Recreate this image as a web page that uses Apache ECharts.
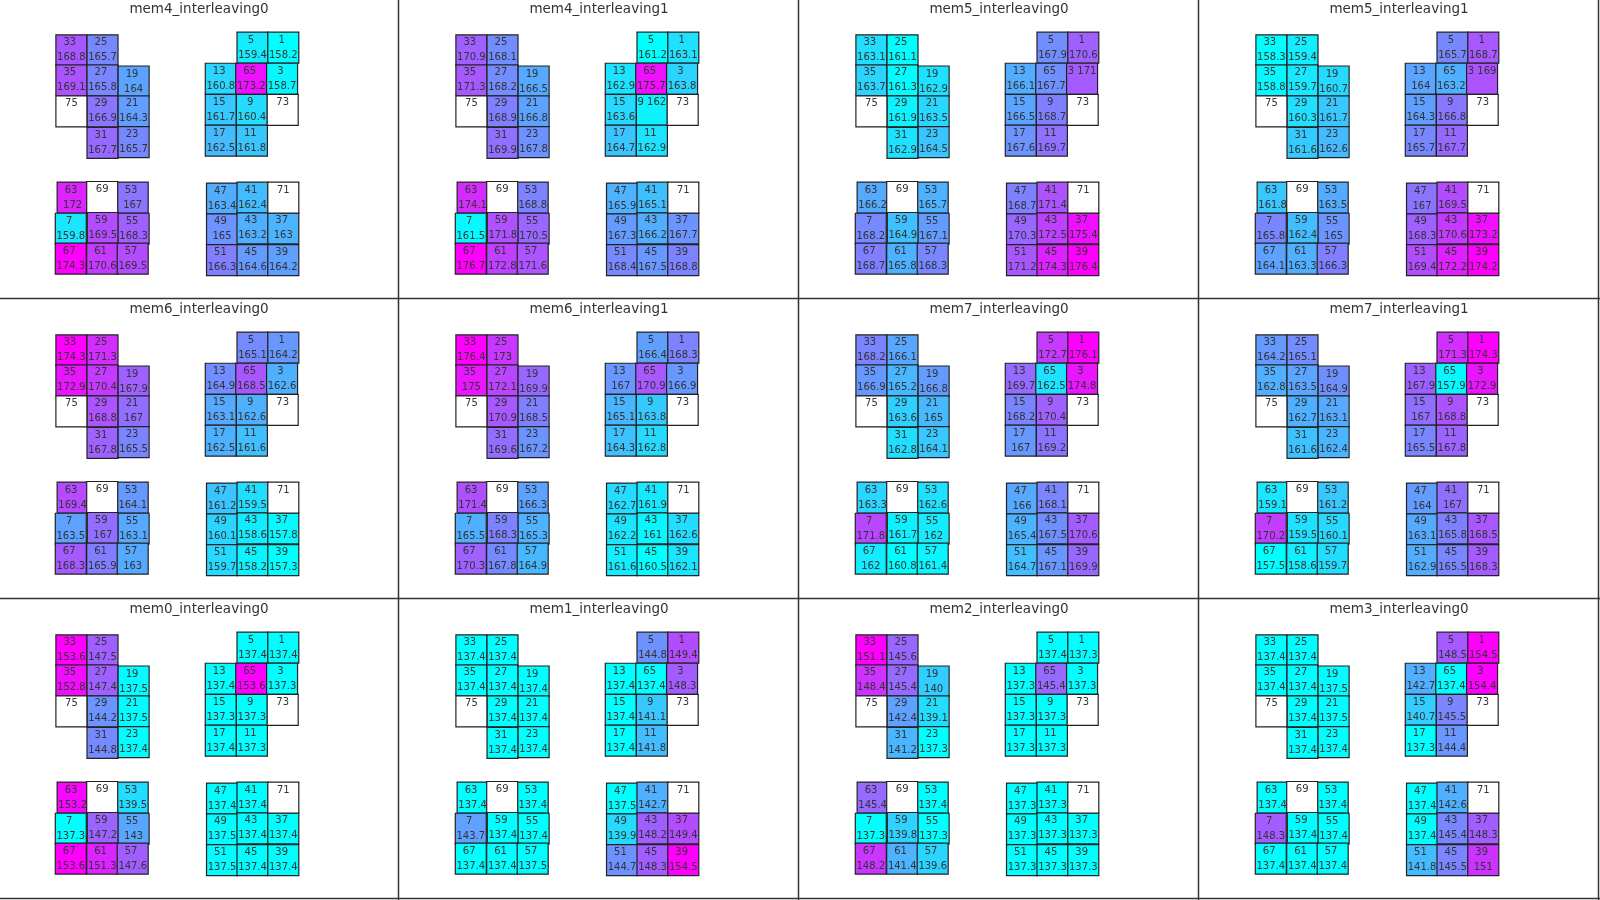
<!DOCTYPE html>
<html><head><meta charset="utf-8">
<script src="https://cdn.jsdelivr.net/npm/echarts@6/dist/echarts.min.js"></script>
<style>html,body{margin:0;padding:0;background:#fff}#c{width:1600px;height:900px}</style>
</head><body><div id="c"></div>
<script>
// ---- data ----
const panelNames = [
  'mem4_interleaving0','mem4_interleaving1','mem5_interleaving0','mem5_interleaving1',
  'mem6_interleaving0','mem6_interleaving1','mem7_interleaving0','mem7_interleaving1',
  'mem0_interleaving0','mem1_interleaving0','mem2_interleaving0','mem3_interleaving0'
];
// core ids, in the order of the value arrays below
const cores = [33,25,35,27,19,75,29,21,31,23, 5,1,13,65,3,15,9,73,17,11, 63,69,53,7,59,55,67,61,57, 47,41,71,49,43,37,51,45,39];

const mem4_interleaving0 = [168.8,165.7,169.1,165.8,164,null,166.9,164.3,167.7,165.7, 159.4,158.2,160.8,173.2,158.7,161.7,160.4,null,162.5,161.8, 172,null,167,159.8,169.5,168.3,174.3,170.6,169.5, 163.4,162.4,null,165,163.2,163,166.3,164.6,164.2];
const mem4_interleaving1 = [170.9,168.1,171.3,168.2,166.5,null,168.9,166.8,169.9,167.8, 161.2,163.1,162.9,175.7,163.8,163.6,162,null,164.7,162.9, 174.1,null,168.8,161.5,171.8,170.5,176.7,172.8,171.6, 165.9,165.1,null,167.3,166.2,167.7,168.4,167.5,168.8];
const mem5_interleaving0 = [163.1,161.1,163.7,161.3,162.9,null,161.9,163.5,162.9,164.5, 167.9,170.6,166.1,167.7,171,166.5,168.7,null,167.6,169.7, 166.2,null,165.7,168.2,164.9,167.1,168.7,165.8,168.3, 168.7,171.4,null,170.3,172.5,175.4,171.2,174.3,176.4];
const mem5_interleaving1 = [158.3,159.4,158.8,159.7,160.7,null,160.3,161.7,161.6,162.6, 165.7,168.7,164,163.2,169,164.3,166.8,null,165.7,167.7, 161.8,null,163.5,165.8,162.4,165,164.1,163.3,166.3, 167,169.5,null,168.3,170.6,173.2,169.4,172.2,174.2];
const mem6_interleaving0 = [174.3,171.3,172.9,170.4,167.9,null,168.8,167,167.8,165.5, 165.1,164.2,164.9,168.5,162.6,163.1,162.6,null,162.5,161.6, 169.4,null,164.1,163.5,167,163.1,168.3,165.9,163, 161.2,159.5,null,160.1,158.6,157.8,159.7,158.2,157.3];
const mem6_interleaving1 = [176.4,173,175,172.1,169.9,null,170.9,168.5,169.6,167.2, 166.4,168.3,167,170.9,166.9,165.1,163.8,null,164.3,162.8, 171.4,null,166.3,165.5,168.3,165.3,170.3,167.8,164.9, 162.7,161.9,null,162.2,161,162.6,161.6,160.5,162.1];
const mem7_interleaving0 = [168.2,166.1,166.9,165.2,166.8,null,163.6,165,162.8,164.1, 172.7,176.1,169.7,162.5,174.8,168.2,170.4,null,167,169.2, 163.3,null,162.6,171.8,161.7,162,162,160.8,161.4, 166,168.1,null,165.4,167.5,170.6,164.7,167.1,169.9];
const mem7_interleaving1 = [164.2,165.1,162.8,163.5,164.9,null,162.7,163.1,161.6,162.4, 171.3,174.3,167.9,157.9,172.9,167,168.8,null,165.5,167.8, 159.1,null,161.2,170.2,159.5,160.1,157.5,158.6,159.7, 164,167,null,163.1,165.8,168.5,162.9,165.5,168.3];
const mem0_interleaving0 = [153.6,147.5,152.8,147.4,137.5,null,144.2,137.5,144.8,137.4, 137.4,137.4,137.4,153.6,137.3,137.3,137.3,null,137.4,137.3, 153.2,null,139.5,137.3,147.2,143,153.6,151.3,147.6, 137.4,137.4,null,137.5,137.4,137.4,137.5,137.4,137.4];
const mem1_interleaving0 = [137.4,137.4,137.4,137.4,137.4,null,137.4,137.4,137.4,137.4, 144.8,149.4,137.4,137.4,148.3,137.4,141.1,null,137.4,141.8, 137.4,null,137.4,143.7,137.4,137.4,137.4,137.4,137.5, 137.5,142.7,null,139.9,148.2,149.4,144.7,148.3,154.5];
const mem2_interleaving0 = [151.1,145.6,148.4,145.4,140,null,142.4,139.1,141.2,137.3, 137.4,137.3,137.3,145.4,137.3,137.3,137.3,null,137.3,137.3, 145.4,null,137.4,137.3,139.8,137.3,148.2,141.4,139.6, 137.3,137.3,null,137.3,137.3,137.3,137.3,137.3,137.3];
const mem3_interleaving0 = [137.4,137.4,137.4,137.4,137.5,null,137.4,137.5,137.4,137.4, 148.5,154.5,142.7,137.4,154.4,140.7,145.5,null,137.3,144.4, 137.4,null,137.4,148.3,137.4,137.4,137.4,137.4,137.4, 137.4,142.6,null,137.4,145.4,148.3,141.8,145.5,151];

const panelValues = [
  mem4_interleaving0, mem4_interleaving1, mem5_interleaving0, mem5_interleaving1,
  mem6_interleaving0, mem6_interleaving1, mem7_interleaving0, mem7_interleaving1,
  mem0_interleaving0, mem1_interleaving0, mem2_interleaving0, mem3_interleaving0
];

// floorplan: core id -> [column, row] of the tile (grid units)
const floorplan = {
  33:[0,0], 25:[1.01,0], 35:[0,0.97], 27:[1.01,0.97], 19:[2.02,1.01], 75:[0,1.98], 29:[1.01,1.98], 21:[2.02,1.98], 31:[1.01,3.0], 23:[2.02,2.98],
  5:[5.88,-0.09], 1:[6.88,-0.09], 13:[4.85,0.92], 65:[5.84,0.92], 3:[6.84,0.92], 15:[4.85,1.93], 9:[5.86,1.93], 73:[6.86,1.93], 17:[4.85,2.93], 11:[5.86,2.93],
  63:[0.04,4.78], 69:[1.0,4.76], 53:[1.99,4.78], 7:[-0.02,5.79], 59:[1.02,5.76], 55:[2.02,5.79], 67:[-0.02,6.76], 61:[1.0,6.76], 57:[1.99,6.76],
  47:[4.89,4.81], 41:[5.88,4.78], 71:[6.88,4.78], 49:[4.89,5.81], 43:[5.88,5.78], 37:[6.88,5.78], 51:[4.89,6.81], 45:[5.88,6.81], 39:[6.88,6.81]
};

// ---- layout / style ----
const PW = 400, PH = 300, UNIT = 30.8, GX = 56, GY = 35;
const FONT = "'DejaVu Sans', Verdana, sans-serif";

const option = {
  animation: false,
  backgroundColor: '#fff',
  title: [], grid: [], xAxis: [], yAxis: [], series: [], visualMap: [], graphic: []
};

const labelBase = {
  show: true, position: 'insideTop', distance: 1, color: '#333', fontSize: 10,
  fontFamily: FONT, lineHeight: 15, width: 31, overflow: 'break'
};

panelNames.forEach((name, i) => {
  const col = i % 4, row = Math.floor(i / 4);
  const px = col * PW, py = row * PH;
  const vals = panelValues[i];
  option.title.push({
    text: name, left: px + 199, top: py + 2, textAlign: 'center', padding: 0,
    textStyle: { fontSize: 13.5, fontWeight: 'normal', color: '#333', fontFamily: FONT }
  });
  option.grid.push({ left: px + GX, top: py + GY, width: 8 * UNIT, height: 8 * UNIT, show: false });
  option.xAxis.push({ gridIndex: i, type: 'value', min: 0, max: 8, show: false });
  option.yAxis.push({ gridIndex: i, type: 'value', min: 0, max: 8, inverse: true, show: false });
  const filled = [], empty = [];
  cores.forEach((id, k) => {
    const p = floorplan[id];
    if (vals[k] == null) empty.push([p[0] + 0.5, p[1] + 0.5, id]);
    else filled.push([p[0] + 0.5, p[1] + 0.5, vals[k], id]);
  });
  const nums = vals.filter(v => v != null);
  const sIdx = option.series.length;
  option.series.push({
    type: 'scatter', name: name, xAxisIndex: i, yAxisIndex: i, symbol: 'rect', symbolSize: 31,
    clip: false, silent: true, data: filled,
    itemStyle: { borderColor: '#222', borderWidth: 1.2, opacity: 1 },
    label: Object.assign({}, labelBase, { formatter: p => p.data[3] + ' ' + p.data[2] }),
    emphasis: { disabled: true }
  });
  option.series.push({
    type: 'scatter', name: name + '_empty', xAxisIndex: i, yAxisIndex: i, symbol: 'rect', symbolSize: 31,
    clip: false, silent: true, data: empty,
    itemStyle: { color: '#fff', borderColor: '#222', borderWidth: 1.2, opacity: 1 },
    label: Object.assign({}, labelBase, { formatter: p => String(p.data[2]) }),
    emphasis: { disabled: true }
  });
  option.visualMap.push({
    type: 'continuous', show: false, seriesIndex: sIdx, dimension: 2,
    min: Math.min(...nums), max: Math.max(...nums),
    inRange: { color: ['#00ffff', '#ff00ff'] }
  });
});

// panel separators
for (let k = 0; k < 4; k++) {
  option.graphic.push({ type: 'line', silent: true, shape: { x1: 398.5 + k * PW, y1: 0, x2: 398.5 + k * PW, y2: 900 }, style: { stroke: '#333', lineWidth: 1.5 } });
}
for (let k = 0; k < 3; k++) {
  option.graphic.push({ type: 'line', silent: true, shape: { x1: 0, y1: 298.5 + k * PH, x2: 1600, y2: 298.5 + k * PH }, style: { stroke: '#333', lineWidth: 1.5 } });
}

const chart = echarts.init(document.getElementById('c'), null, { renderer: 'canvas' });
chart.setOption(option);
</script></body></html>
